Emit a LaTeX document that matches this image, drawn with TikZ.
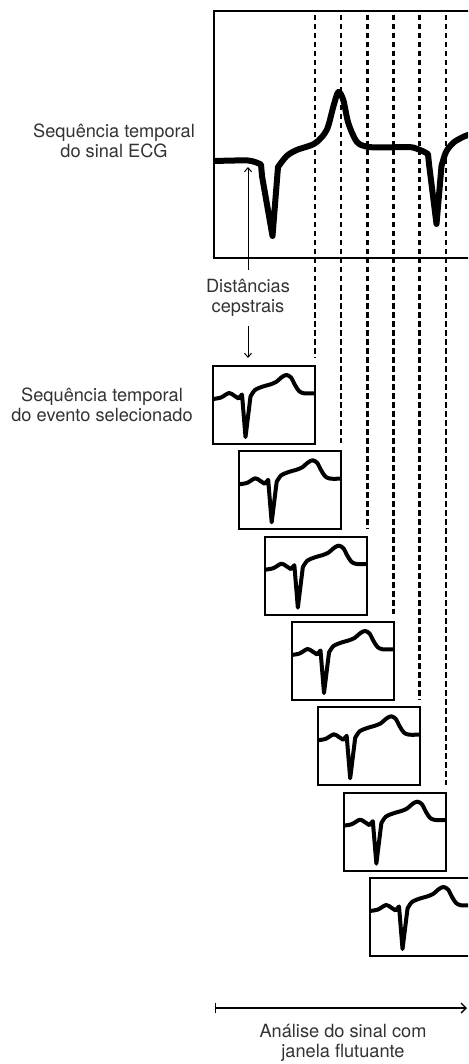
\documentclass[tikz,border=0pt]{standalone}
\usepackage{fontspec}
\setmainfont{TeX Gyre Heros}
\usetikzlibrary{arrows.meta,positioning}

\tikzset{
	ecg/.style={line width=4pt,line join=round},
	win/.style={draw,line width=2pt,outer sep=0pt,minimum width=102pt,minimum height=78pt,anchor=north west,inner sep=0pt},
	lbl/.style={align=center,text=black!80,font=\fontsize{18.2}{20.5}\selectfont},
	mini/.pic={
		\draw[ecg] plot[smooth] coordinates {(0,33) (8,31.5) (16,27) (21,29.5) (25.5,32.5)} -- (29,28.5) -- (32.5,71)
			-- plot[smooth] coordinates {(37.5,30.5) (42,24) (50,20.5) (57,18.5) (63,16) (69,11) (73.5,9) (78,11.5) (82,19) (86,25) (91,27.3) (102,27.3)};
	}
}

\begin{document}
\begin{tikzpicture}[x=1pt,y=-1pt]
	\useasboundingbox (0,0) rectangle (468,1064);
	\clip (0,0) rectangle (468,1064);

	\node[draw,line width=2.5pt,outer sep=0pt,anchor=north west,minimum width=280pt,minimum height=247pt] (sig) at (214,11) {};

	\foreach \i in {1,...,7}
		\node[win] (w\i) at ({213+26.17*(\i-1)},{366+85.33*(\i-1)}) {};
	\foreach \i in {1,...,7}
		\pic at (w\i.north west) {mini};
	\foreach \i in {1,...,6}
		\draw[line width=2.6pt,dash pattern=on 5.5pt off 3.5pt,shorten >=8pt] (w\i.north east |- 0,15) -- (w\i.north east);

	\draw[ecg,line width=6pt] plot[smooth] coordinates {(214,161) (235,160.5) (248,160.5) (255,162) (261,164.5)} -- (262,176) -- (272.5,236)
		-- plot[smooth] coordinates {(278,167) (286.7,156) (296.7,150) (315,143.3) (326.7,130) (333.3,106.7) (338.3,92) (343.3,100) (348.3,123) (356.7,141.7) (366.7,146.7) (383,147.5) (405,147) (413,147.5) (420,150) (424.5,152)}
		-- (428,154) -- (429,164) -- (436.5,224)
		-- plot[smooth] coordinates {(441.5,166) (446,152) (453,143) (461,138) (468,135) (480,133)};

	\node[lbl] (ecgtxt) at (114,141) {Sequência temporal\\do sinal ECG};
	\node[lbl] (evttxt) at (102,405) {Sequência temporal\\do evento selecionado};
	\node[lbl,inner sep=9pt] (dist) at (248,298) {Distâncias\\cepstrais};
	\node[lbl] (scantxt) at (343,1043) {Análise do sinal com\\janela flutuante};

	\coordinate (onset) at (248,167);
	\draw[line width=1pt,-{Straight Barb[length=4pt,width=7pt]}] (dist) -- (onset);
	\draw[line width=1pt,-{Straight Barb[length=4pt,width=7pt]},shorten >=8pt] (dist) -- (dist |- w1.north);

	\coordinate (s0) at (215,1008);
	\coordinate (s1) at (467,1008);
	\draw[line width=1.4pt,{Bar[width=10pt]}-{Straight Barb[length=5pt,width=10pt]}] (s0) -- (s1);
\end{tikzpicture}
\end{document}
